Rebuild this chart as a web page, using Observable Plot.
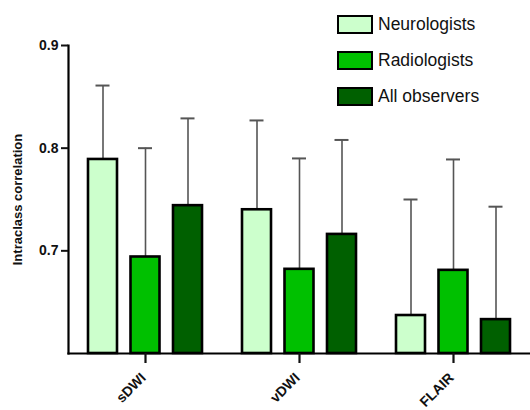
<!DOCTYPE html>
<html>
<head>
<meta charset="utf-8">
<script src="https://cdn.jsdelivr.net/npm/d3@7"></script>
<script src="https://cdn.jsdelivr.net/npm/@observablehq/plot@0.6"></script>
<style>
  html, body { margin: 0; padding: 0; background: #fff; }
  #wrap { position: relative; width: 530px; height: 410px; font-family: "Liberation Sans", Arial, sans-serif; }
  #legend { position: absolute; left: 337px; top: 6px; }
  .item { display: flex; align-items: center; height: 36px; font-size: 17.5px; color: #111; }
  .sw { width: 32px; height: 15px; border: 2.5px solid #000; margin-right: 5px; box-sizing: content-box; }
  g[aria-label="y-axis label"] text { font-size: 13px; }
</style>
</head>
<body>
<div id="wrap"><div id="chart"></div><div id="legend"></div></div>
<script>
const groups = ["sDWI", "vDWI", "FLAIR"];
const series = ["Neurologists", "Radiologists", "All observers"];
const neurologists = [0.789, 0.740, 0.637];
const neurologistsUpper = [0.861, 0.827, 0.750];
const radiologists = [0.694, 0.682, 0.681];
const radiologistsUpper = [0.800, 0.790, 0.789];
const allObservers = [0.744, 0.716, 0.633];
const allObserversUpper = [0.829, 0.808, 0.743];
const colors = ["#ccffcc", "#00c000", "#006000"];
const yTicks = [0.7, 0.8, 0.9];
const yDomain = [0.6, 0.9];

const values = [neurologists, radiologists, allObservers];
const uppers = [neurologistsUpper, radiologistsUpper, allObserversUpper];
const rows = [];
series.forEach((s, si) => groups.forEach((g, gi) => rows.push({group: g, series: s, si, base: yDomain[0], value: values[si][gi], upper: uppers[si][gi]})));

const step = 42.5;   // pixel spacing of bars inside a group
const barW = 29, capW = 14;
const marks = [];
series.forEach((s, si) => {
  const d = rows.filter(r => r.series === s);
  const dx = (si - 1) * step;
  const ib = (154 - barW) / 2, ic = (154 - capW) / 2;
  marks.push(Plot.ruleX(d, {x: "group", y1: "value", y2: "upper", dx, stroke: "#555", strokeWidth: 1.6}));
  marks.push(Plot.tickY(d, {x: "group", y: "upper", dx, stroke: "#555", strokeWidth: 2, insetLeft: ic, insetRight: ic}));
  marks.push(Plot.rectY(d, {x: "group", y1: "base", y2: "value", dx, fill: colors[si], stroke: "#000", strokeWidth: 2.6, insetLeft: ib, insetRight: ib}));
});

const chart = Plot.plot({
  width: 530,
  height: 410,
  marginLeft: 68,
  marginRight: 0,
  marginTop: 45,
  marginBottom: 57,
  style: {fontFamily: "'Liberation Sans', Arial, sans-serif", fontWeight: "bold", fontSize: "14px", color: "#111", background: "#fff"},
  x: {domain: groups, padding: 0},
  y: {domain: yDomain},
  marks: [
    ...marks,
    Plot.frame({anchor: "left", stroke: "#000", strokeWidth: 2.2}),
    Plot.frame({anchor: "bottom", stroke: "#000", strokeWidth: 2.2}),
    Plot.axisY({ticks: yTicks, tickFormat: d3.format(".1f"), tickSize: 7, tickPadding: 3, strokeWidth: 2, label: "Intraclass correlation", labelAnchor: "center", labelOffset: 56, labelArrow: "none"}),
    Plot.axisX({tickSize: 10, strokeWidth: 2.2, tickFormat: () => "", label: null}),
    Plot.axisX({tickSize: 0, tickPadding: 22, dx: -2, tickRotate: -45, label: null})
  ]
});
document.getElementById("chart").appendChild(chart);

const legend = document.getElementById("legend");
series.forEach((s, si) => {
  const it = document.createElement("div");
  it.className = "item";
  it.innerHTML = `<div class="sw" style="background:${colors[si]}"></div><span>${s}</span>`;
  legend.appendChild(it);
});
</script>
</body>
</html>
